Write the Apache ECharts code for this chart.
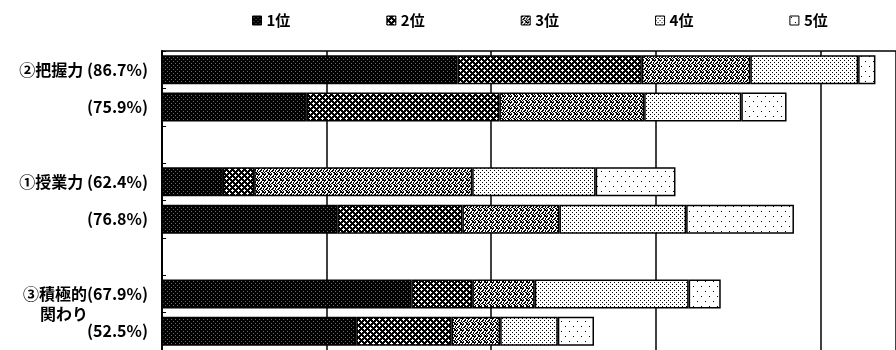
<!DOCTYPE html>
<html>
<head>
<meta charset="utf-8">
<script src="https://cdn.jsdelivr.net/npm/echarts@6/dist/echarts.min.js"></script>
<style>
  html, body { margin: 0; padding: 0; background: #fff; }
  #chart { width: 896px; height: 350px; }
</style>
</head>
<body>
<div id="chart"></div>
<script>
// Row labels (top to bottom); empty rows are spacers between the three groups
const rowLabels = ['②把握力 (86.7%)', '(75.9%)', '', '①授業力 (62.4%)', '(76.8%)', '', '③積極的(67.9%)', '(52.5%)'];
const rowSubLabels = ['', '', '', '', '', '', '関わり', ''];

// Rank names for the legend
const rankNames = ['1位', '2位', '3位', '4位', '5位'];

// Share (%) of each rank per row
const rank1 = [35.9, 17.6, null, 7.4, 21.3, null, 30.3, 23.6];
const rank2 = [22.4, 23.4, null, 3.8, 15.2, null, 7.4, 11.6];
const rank3 = [13.2, 17.6, null, 26.5, 11.8, null, 7.6, 5.9];
const rank4 = [13.1, 11.8, null, 15.0, 15.4, null, 18.7, 7.0];
const rank5 = [2.1, 5.5, null, 9.7, 13.1, null, 3.9, 4.4];

// Axis range: 20% steps; the frame is cut at the right edge of the page (about 89%)
const xMin = 0, xMax = 89.2, xStep = 20;

// Monochrome fill patterns built from small bitmaps ('#' = ink, '+' = grey ink, '.' = paper)
function makePattern(rows, ink, paper) {
  const h = rows.length, w = rows[0].length;
  const c = document.createElement('canvas');
  c.width = w; c.height = h;
  const ctx = c.getContext('2d');
  ctx.fillStyle = paper; ctx.fillRect(0, 0, w, h);
  for (let y = 0; y < h; y++) {
    for (let x = 0; x < w; x++) {
      const ch = rows[y][x];
      if (ch === '#') { ctx.fillStyle = ink; ctx.fillRect(x, y, 1, 1); }
      else if (ch === '+') { ctx.fillStyle = '#6a6a6a'; ctx.fillRect(x, y, 1, 1); }
    }
  }
  return { image: c, repeat: 'repeat' };
}

const fills = [
  makePattern([
    '####',
    '#+##',
    '####',
    '###+'
  ], '#000', '#000'),
  makePattern([
    '#.####',
    '...###',
    '#.####',
    '####.#',
    '###...',
    '####.#'
  ], '#000', '#fff'),
  makePattern([
    '##..##',
    '#..#..',
    '..##.#',
    '.##..#',
    '#..##.',
    '.#..##'
  ], '#000', '#fff'),
  makePattern([
    '#...',
    '....',
    '..#.',
    '....'
  ], '#000', '#fff'),
  makePattern([
    '........',
    '.#......',
    '........',
    '........',
    '........',
    '........',
    '.....#..',
    '........',
    '........',
    '........'
  ], '#000', '#fff')
];

const seriesValues = [rank1, rank2, rank3, rank4, rank5];

const FONT = "'Noto Sans CJK JP', 'Noto Sans', sans-serif";

const chart = echarts.init(document.getElementById('chart'), null, { renderer: 'canvas' });

chart.setOption({
  animation: false,
  backgroundColor: '#fff',
  legend: {
    data: rankNames,
    left: 252,
    top: 13,
    padding: 0,
    icon: 'rect',
    itemWidth: 9,
    itemHeight: 9,
    itemGap: 96,
    itemStyle: { borderColor: '#000', borderWidth: 1 },
    textStyle: { fontFamily: FONT, fontSize: 15, fontWeight: 'bold', color: '#000' }
  },
  grid: { left: 162, top: 51, width: 736, height: 302, containLabel: false },
  xAxis: {
    type: 'value',
    position: 'top',
    min: xMin,
    max: xMax,
    interval: xStep,
    axisLine: { show: true, lineStyle: { color: '#000', width: 1.5 } },
    axisTick: { show: false },
    axisLabel: { show: false },
    splitLine: { show: true, lineStyle: { color: '#000', width: 1.5 } }
  },
  yAxis: {
    type: 'category',
    inverse: true,
    data: rowLabels,
    axisLine: { show: true, lineStyle: { color: '#000', width: 2 } },
    axisTick: { show: true, inside: true, length: 4, lineStyle: { color: '#000', width: 1 } },
    splitLine: { show: false },
    axisLabel: {
      margin: 14,
      color: '#000',
      formatter: function (val, idx) {
        const main = rowLabels[idx];
        const sub = rowSubLabels[idx];
        if (!main) return '';
        // second line is indented a little from the left edge of the first
        if (sub) return '{e| }\n{m|' + main + '}\n{g|}{s|' + sub + '}';
        return '{m|' + main + '}';
      },
      rich: {
        m: { fontFamily: FONT, fontSize: 16, fontWeight: 'bold', color: '#000', lineHeight: 20 },
        s: { fontFamily: FONT, fontSize: 16, fontWeight: 'bold', color: '#000', lineHeight: 20, align: 'left' },
        g: { width: 17, lineHeight: 20, align: 'left' },
        e: { fontSize: 16, lineHeight: 20 }
      }
    }
  },
  series: seriesValues.map(function (vals, i) {
    return {
      name: rankNames[i],
      type: 'bar',
      stack: 'rank',
      barWidth: 29,
      data: vals,
      itemStyle: { color: fills[i], borderColor: '#000', borderWidth: 1.5 },
      emphasis: { disabled: true }
    };
  })
});
</script>
</body>
</html>
